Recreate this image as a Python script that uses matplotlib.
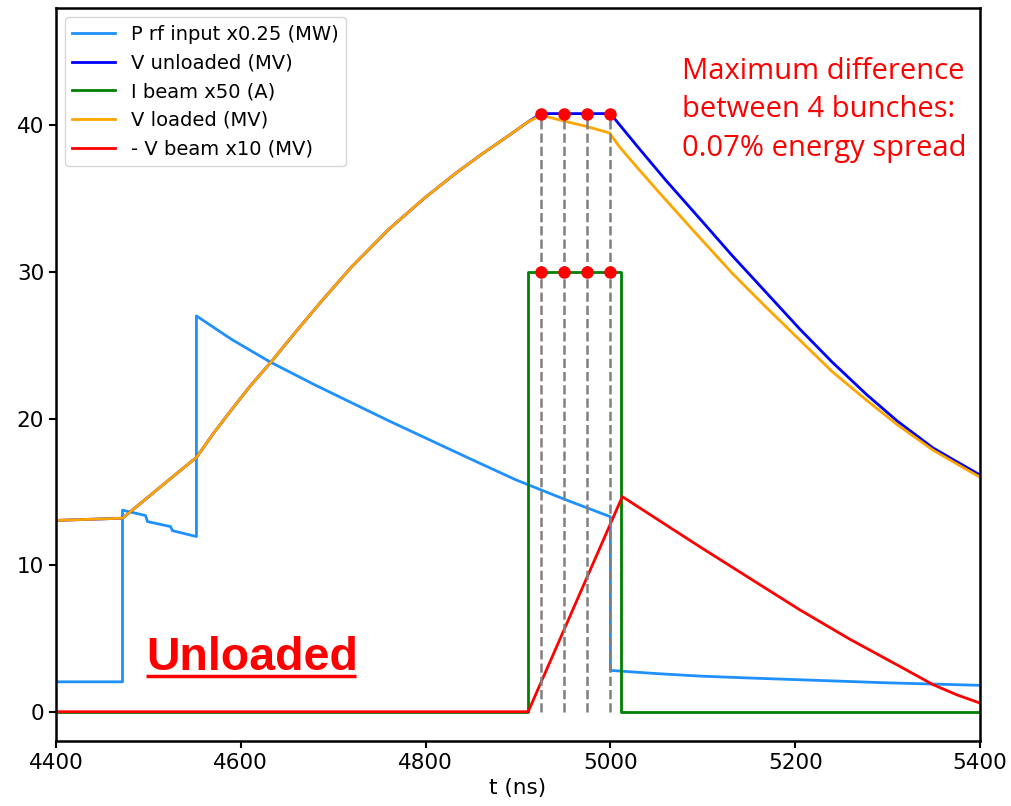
import matplotlib
matplotlib.use("Agg")
import matplotlib.pyplot as plt

# ---- data ----
p_rf_t = [4400, 4472, 4472, 4497, 4499, 4524, 4526, 4552, 4552, 4590, 4632, 4680,
          4725, 4760, 4797, 4850, 4898, 4950, 5000, 5000, 5050, 5097, 5150, 5205,
          5300, 5400]
p_rf_v = [2.04, 2.04, 13.75, 13.38, 12.97, 12.63, 12.35, 11.95, 27.0, 25.4, 23.85, 22.3,
          20.92, 19.85, 18.76, 17.2, 15.81, 14.5, 13.3, 2.82, 2.6, 2.43, 2.3, 2.18,
          1.97, 1.8]

v_unl_t = [4400, 4472, 4522, 4552, 4570, 4590, 4610, 4632, 4660, 4688, 4720, 4760,
           4800, 4833, 4860, 4890, 4910, 4925, 5000, 5030, 5060, 5100, 5132, 5170,
           5205, 5240, 5277, 5310, 5349, 5375, 5400]
v_unl_v = [13.05, 13.2, 15.8, 17.35, 18.95, 20.6, 22.2, 23.8, 25.95, 28.05, 30.35, 32.9,
           35.1, 36.75, 38.0, 39.3, 40.2, 40.8, 40.8, 38.5, 36.25, 33.4, 31.1, 28.5,
           26.1, 23.85, 21.65, 19.85, 18.0, 17.05, 16.15]

i_beam_t = [4400, 4911, 4911, 5012, 5012, 5400]
i_beam_v = [0, 0, 30, 30, 0, 0]

v_load_t = [4400, 4472, 4522, 4552, 4570, 4590, 4610, 4632, 4660, 4688, 4720, 4760,
            4800, 4833, 4860, 4890, 4910, 4925, 4949, 4974, 4999, 5010, 5030, 5053,
            5090, 5132, 5170, 5205, 5240, 5277, 5310, 5349, 5375, 5400]
v_load_v = [13.05, 13.2, 15.8, 17.35, 18.95, 20.6, 22.2, 23.8, 25.95, 28.05, 30.35, 32.9,
            35.1, 36.75, 38.0, 39.3, 40.2, 40.7, 40.3, 39.93, 39.48, 38.52, 37.05, 35.4,
            32.8, 29.9, 27.5, 25.35, 23.2, 21.26, 19.6, 17.85, 16.9, 16.0]

v_beam_t = [4400, 4911, 5012.9, 5096.6, 5150.6, 5205, 5259, 5313.3, 5349.4, 5375, 5400]
v_beam_v = [0, 0, 14.67, 11.26, 9.11, 6.95, 4.95, 3.09, 1.84, 1.15, 0.59]

bunch_t = [4925, 4950, 4975, 5000]
bunch_v_top = 40.8
bunch_i_top = 30

labels = ["P rf input x0.25 (MW)", "V unloaded (MV)", "I beam x50 (A)",
          "V loaded (MV)", "- V beam x10 (MV)"]
colors = ["#1E90FF", "blue", "green", "orange", "red"]

xticks = [4400, 4600, 4800, 5000, 5200, 5400]
yticks = [0, 10, 20, 30, 40]

note_text = "Maximum difference\nbetween 4 bunches:\n0.07% energy spread"
case_text = "Unloaded"

# ---- figure ----
fig = plt.figure(figsize=(10.12, 8.06), dpi=100)
ax = fig.add_axes([0.0553, 0.0806, 0.9131, 0.9094])

lw = 2.0
ax.plot(p_rf_t, p_rf_v, color=colors[0], lw=lw, label=labels[0])
ax.plot(v_unl_t, v_unl_v, color=colors[1], lw=lw, label=labels[1])
ax.plot(i_beam_t, i_beam_v, color=colors[2], lw=lw, label=labels[2])
ax.plot(v_load_t, v_load_v, color=colors[3], lw=lw, label=labels[3])
ax.plot(v_beam_t, v_beam_v, color=colors[4], lw=lw, label=labels[4])

ax.vlines(bunch_t, 0, bunch_v_top, colors="gray", linestyles="--", lw=1.8, zorder=3)
ax.plot(bunch_t, [bunch_v_top] * 4, "o", color="red", ms=8, zorder=4)
ax.plot(bunch_t, [bunch_i_top] * 4, "o", color="red", ms=8, zorder=4)

ax.set_xlim(4400, 5400)
ax.set_ylim(-2, 48)
ax.set_xticks(xticks)
ax.set_yticks(yticks)
ax.tick_params(labelsize=15.5, width=1.5, length=5)
for s in ax.spines.values():
    s.set_linewidth(1.8)
ax.set_xlabel("t (ns)", fontsize=15.5)

leg = ax.legend(loc="upper left", fontsize=14, handlelength=2.2,
                borderaxespad=0.45, labelspacing=0.5)

ax.text(0.678, 0.933, note_text,
        transform=ax.transAxes, color="red", fontsize=21, family="Open Sans",
        va="top", ha="left", linespacing=1.42)

ax.text(4497.5, 2.85, case_text, color="red",
        fontsize=33.5, fontweight="bold", family="Liberation Sans",
        va="baseline", ha="left")
ax.plot([4497.5, 4725], [2.45, 2.45], color="red", lw=2.5, solid_capstyle="butt")

fig.savefig("out.png", dpi=100)
